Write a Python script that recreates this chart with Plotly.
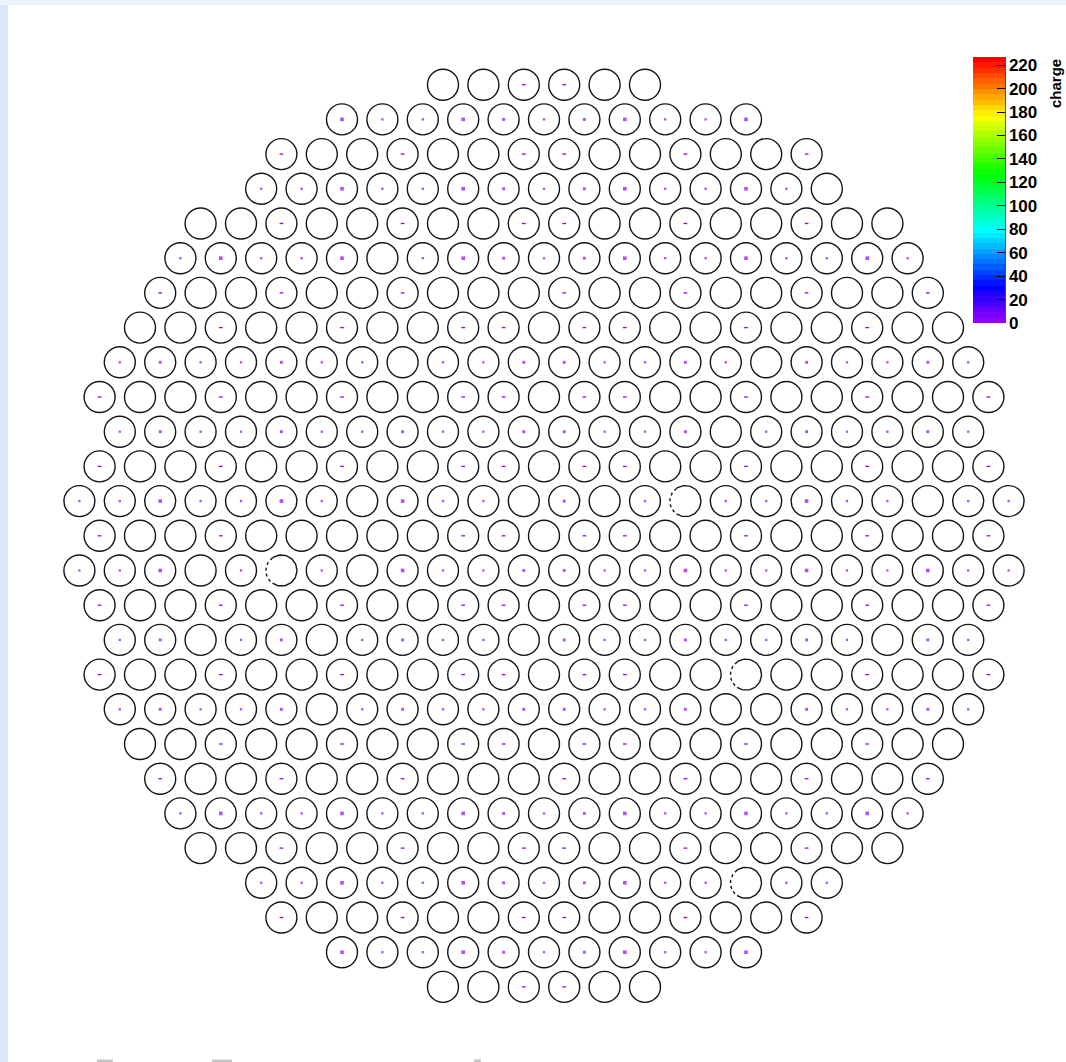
import math
import colorsys
import plotly.graph_objects as go

# ---------------- data ----------------
# number of PMTs in each row of the hexagonal array (top to bottom)
row_counts = [6, 11, 14, 15, 18, 19, 20, 21, 22, 23, 22, 23, 24, 23,
              24, 23, 22, 23, 22, 21, 20, 19, 18, 15, 14, 11, 6]

# charge seen by each PMT, row by row, left to right (0 = no hit)
charges = [
    [0, 0, 1, 1, 0, 0],
    [3, 1, 1, 3, 2, 1, 2, 3, 1, 1, 3],
    [1, 0, 0, 1, 0, 0, 1, 1, 0, 0, 1, 0, 0, 1],
    [1, 1, 3, 1, 1, 3, 2, 1, 2, 3, 1, 1, 3, 1, 0],
    [0, 0, 1, 0, 0, 1, 0, 0, 1, 1, 0, 0, 1, 0, 0, 1, 0, 0],
    [1, 3, 1, 1, 3, 0, 1, 3, 2, 1, 2, 3, 1, 1, 3, 1, 1, 3, 1],
    [1, 0, 0, 1, 0, 0, 1, 0, 0, 0, 1, 0, 0, 1, 0, 0, 1, 0, 0, 1],
    [0, 0, 1, 0, 0, 1, 0, 0, 1, 1, 0, 1, 1, 0, 0, 1, 0, 0, 1, 0, 0],
    [1, 2, 1, 1, 2, 1, 1, 0, 1, 1, 2, 2, 1, 1, 2, 1, 0, 2, 1, 1, 2, 1],
    [1, 0, 0, 1, 0, 0, 1, 0, 0, 1, 1, 0, 1, 1, 0, 0, 1, 0, 0, 1, 0, 0, 1],
    [1, 2, 1, 1, 2, 1, 1, 2, 1, 1, 2, 2, 1, 1, 2, 0, 1, 2, 1, 1, 2, 1],
    [1, 0, 0, 1, 0, 0, 1, 0, 0, 1, 1, 0, 1, 1, 0, 0, 1, 0, 0, 1, 0, 0, 1],
    [1, 1, 3, 1, 1, 3, 1, 0, 3, 1, 1, 0, 2, 0, 1, 0, 1, 1, 3, 1, 1, 0, 1, 1],
    [1, 0, 0, 1, 0, 0, 0, 0, 0, 1, 1, 0, 1, 1, 0, 0, 1, 0, 0, 1, 0, 0, 1],
    [1, 1, 3, 0, 1, 0, 1, 0, 3, 1, 1, 2, 2, 1, 1, 3, 1, 1, 3, 1, 1, 3, 1, 1],
    [1, 0, 0, 1, 0, 0, 1, 0, 0, 1, 1, 0, 1, 1, 0, 0, 1, 0, 0, 1, 0, 0, 1],
    [1, 2, 0, 1, 2, 0, 1, 2, 1, 1, 0, 2, 1, 1, 2, 1, 1, 2, 1, 0, 2, 1],
    [1, 0, 0, 1, 0, 0, 1, 0, 0, 1, 1, 0, 1, 1, 0, 0, 0, 0, 0, 1, 0, 0, 1],
    [1, 2, 1, 1, 2, 0, 1, 2, 1, 1, 2, 2, 1, 1, 2, 0, 0, 2, 1, 1, 2, 1],
    [0, 0, 1, 0, 0, 1, 0, 0, 1, 1, 0, 1, 1, 0, 0, 1, 0, 0, 1, 0, 0],
    [1, 0, 0, 1, 0, 0, 1, 0, 0, 0, 1, 0, 0, 1, 0, 0, 1, 0, 0, 1],
    [1, 3, 1, 1, 3, 1, 1, 3, 2, 1, 2, 3, 1, 1, 3, 1, 1, 3, 1],
    [0, 0, 1, 0, 0, 1, 0, 0, 1, 1, 0, 0, 1, 0, 0, 1, 0, 0],
    [1, 1, 3, 1, 1, 3, 2, 1, 2, 3, 1, 1, 0, 1, 1],
    [1, 0, 0, 1, 0, 0, 1, 1, 0, 0, 1, 0, 0, 1],
    [3, 1, 1, 3, 2, 1, 2, 3, 1, 1, 3],
    [0, 0, 1, 1, 0, 0],
]

# dead PMTs as (row, position in row)
dead_pmts = [(12, 15), (14, 5), (17, 16), (23, 12)]

charge_ticks = [0, 20, 40, 60, 80, 100, 120, 140, 160, 180, 200, 220]
charge_max = 227
colorbar_title = "charge"

# ---------------- styling ----------------
W, H = 1066, 1062
PX_X = 40.4          # pixels per column unit
PX_Y = 34.7          # pixels per row unit
CX, CY0 = 544.0, 84.7
R_PX = 15.5          # PMT radius in px
flat_rows = {0, 2, 4, 6, 7, 9, 11, 13, 15, 17, 19, 20, 22, 24, 26}

# ROOT "pretty" palette: 50 HLS steps, violet -> red
stops = []
for j in range(50):
    hue = (280 - (j + 1) * 280 / 50) / 360.0
    r, g, b = colorsys.hls_to_rgb(hue, 0.5, 1.0)
    c = "rgb(%d,%d,%d)" % (round(r * 255), round(g * 255), round(b * 255))
    stops.append([j / 50, c])
    stops.append([(j + 1) / 50, c])

# ---------------- geometry ----------------
def pmt_x(row, k):
    return k - (row_counts[row] - 1) / 2.0

dead_set = set(dead_pmts)
cx, cy = [], []
dot_x, dot_y, dot_c, dot_s = [], [], [], []
dash_x, dash_y, dash_c = [], [], []
dot_size = {1: 2.3, 2: 2.9, 3: 3.6}
for r, n in enumerate(row_counts):
    for k in range(n):
        x = pmt_x(r, k)
        if (r, k) not in dead_set:
            cx.append(x)
            cy.append(r)
        q = charges[r][k]
        if q > 0:
            if r in flat_rows:
                dash_x.append(x); dash_y.append(r); dash_c.append(q)
            else:
                dot_x.append(x); dot_y.append(r); dot_c.append(q); dot_s.append(dot_size[q])

fig = go.Figure()

fig.add_trace(go.Scatter(
    x=cx, y=cy, mode="markers", hoverinfo="skip",
    marker=dict(symbol="circle-open", size=2 * R_PX, color="#151515",
                line=dict(width=1.4, color="#151515")),
    showlegend=False))

# dead PMTs: partly dotted outlines
for (r, k) in dead_pmts:
    x0 = pmt_x(r, k)
    rx, ry = R_PX / PX_X, R_PX / PX_Y
    solid_t = [math.radians(a) for a in range(-125, 126, 5)]
    dot_t = [math.radians(a) for a in range(125, 236, 5)]
    fig.add_trace(go.Scatter(
        x=[x0 + rx * math.cos(t) for t in solid_t],
        y=[r - ry * math.sin(t) for t in solid_t],
        mode="lines", line=dict(color="#151515", width=1.4),
        hoverinfo="skip", showlegend=False))
    fig.add_trace(go.Scatter(
        x=[x0 + rx * math.cos(t) for t in dot_t],
        y=[r - ry * math.sin(t) for t in dot_t],
        mode="lines", line=dict(color="#151515", width=1.4, dash="dot"),
        hoverinfo="skip", showlegend=False))

fig.add_trace(go.Scatter(
    x=dash_x, y=dash_y, mode="markers", showlegend=False,
    marker=dict(symbol="line-ew-open", size=2.6, color=dash_c,
                coloraxis="coloraxis", line=dict(width=1.3))))

fig.add_trace(go.Scatter(
    x=dot_x, y=dot_y, mode="markers", showlegend=False,
    marker=dict(symbol="square", size=dot_s, color=dot_c,
                coloraxis="coloraxis", line=dict(width=0))))

bar_top, bar_bot = 57, 323
fig.update_layout(
    width=W, height=H,
    margin=dict(l=0, r=0, t=0, b=0),
    paper_bgcolor="white", plot_bgcolor="white",
    xaxis=dict(range=[-CX / PX_X, (W - CX) / PX_X], visible=False, fixedrange=True),
    yaxis=dict(range=[(H - CY0) / PX_Y, -CY0 / PX_Y], visible=False, fixedrange=True),
    coloraxis=dict(
        colorscale=stops, cmin=0, cmax=charge_max,
        colorbar=dict(
            x=973 / W, xanchor="left", y=1 - bar_top / H, yanchor="top",
            thickness=32, thicknessmode="pixels",
            len=bar_bot - bar_top, lenmode="pixels",
            outlinewidth=0,
            tickmode="array", tickvals=charge_ticks,
            ticktext=[str(v) for v in charge_ticks],
            ticks="inside", ticklen=8, tickwidth=1.3, tickcolor="black",
            tickfont=dict(family="Liberation Sans", size=17, color="black", weight="bold"),
            ypad=0, xpad=0,
        ),
    ),
    showlegend=False,
)

# colour-bar axis line
fig.add_shape(type="line", xref="paper", yref="paper",
              x0=1005 / W, x1=1005 / W, y0=1 - bar_top / H, y1=1 - bar_bot / H,
              line=dict(color="black", width=1.4))

fig.add_annotation(text=colorbar_title, textangle=-90, xref="paper", yref="paper",
                   x=1065 / W, y=1 - 58 / H, xanchor="right", yanchor="top",
                   showarrow=False, borderpad=0,
                   font=dict(family="Liberation Sans", size=15, color="black", weight="bold"))

# page frame strips (light blue)
fig.add_shape(type="rect", xref="paper", yref="paper", x0=0, x1=8 / W, y0=0, y1=1,
              line=dict(width=0), fillcolor="#dbe8fa", layer="above")
fig.add_shape(type="rect", xref="paper", yref="paper", x0=0, x1=1, y0=1 - 5 / H, y1=1,
              line=dict(width=0), fillcolor="#eef4fd", layer="above")

# tops of the (cut-off) items below the canvas
for xa, xb in [(97, 113), (212, 232), (474, 481)]:
    fig.add_shape(type="rect", xref="paper", yref="paper",
                  x0=xa / W, x1=xb / W, y0=0, y1=2.5 / H,
                  line=dict(width=0), fillcolor="#c4c4c4", layer="above")

fig.write_html("out.html", config={"displayModeBar": False},
               post_script="document.body.style.margin='0';")
